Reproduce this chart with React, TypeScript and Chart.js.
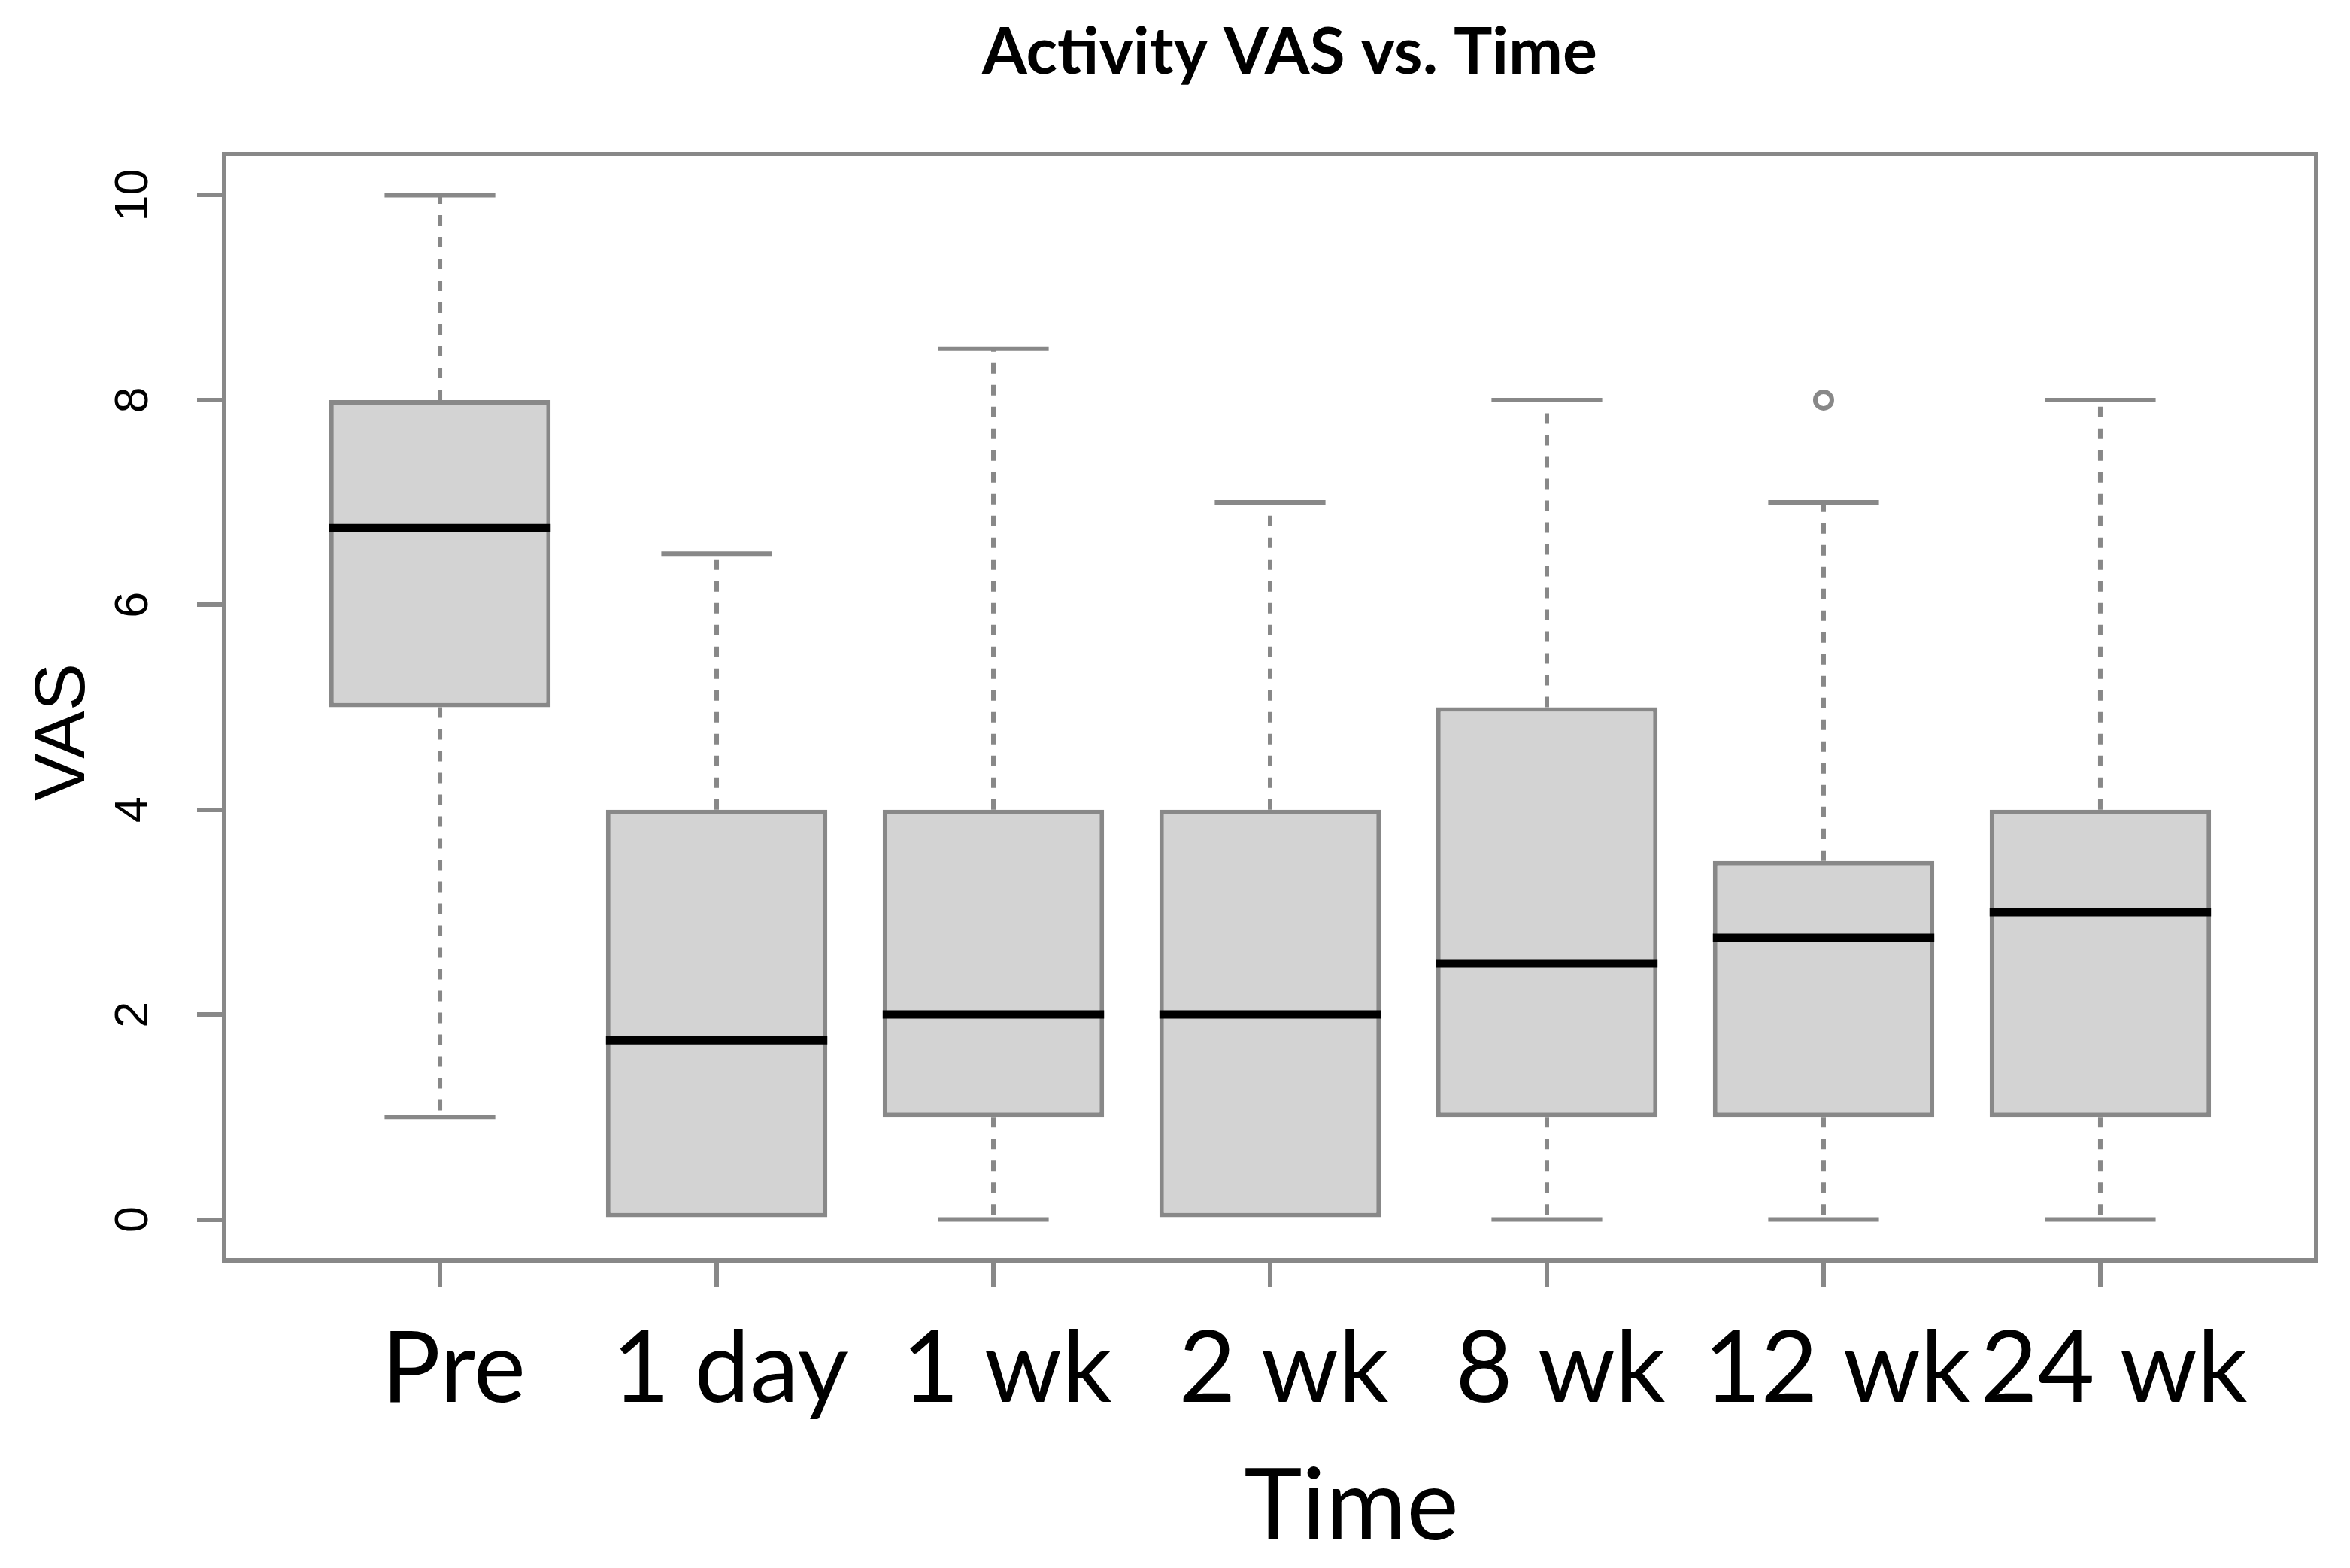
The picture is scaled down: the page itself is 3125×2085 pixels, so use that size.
import React, { useEffect, useRef } from 'react';
import { Chart, registerables } from 'chart.js';

Chart.register(...registerables);

// ---- data ----
const CATEGORIES = ['Pre', '1 day', '1 wk', '2 wk', '8 wk', '12 wk', '24 wk'];
const WHISKER_LOW = [1, 0, 0, 0, 0, 0, 0];
const Q1 = [5, 0, 1, 0, 1, 1, 1];
const MEDIAN = [6.75, 1.75, 2, 2, 2.5, 2.75, 3];
const Q3 = [8, 4, 4, 4, 5, 3.5, 4];
const WHISKER_HIGH = [10, 6.5, 8.5, 7, 8, 7, 8];
const OUTLIER_CATEGORIES = ['12 wk'];
const OUTLIER_VALUES = [8];
const Y_TICKS = [0, 2, 4, 6, 8, 10];
const TITLE = 'Activity VAS vs. Time';
const X_TITLE = 'Time';
const Y_TITLE = 'VAS';

// ---- styles ----
const GRAY = '#888888';
const BOX_FILL = '#d3d3d3';
const W = 3125;
const H = 2085;

const boxExtras = {
  id: 'boxExtras',
  beforeDatasetsDraw(chart: any) {
    const { ctx, scales } = chart;
    const x = scales.x;
    const y = scales.y;
    ctx.save();
    ctx.strokeStyle = GRAY;
    ctx.lineWidth = 6;
    ctx.lineCap = 'butt';
    CATEGORIES.forEach((_, i) => {
      const pos = i + 1;
      const cx = x.getPixelForValue(pos);
      const sl = x.getPixelForValue(pos - 0.2);
      const sr = x.getPixelForValue(pos + 0.2);
      ctx.setLineDash([14, 15]);
      ctx.beginPath();
      ctx.moveTo(cx, y.getPixelForValue(Q3[i]));
      ctx.lineTo(cx, y.getPixelForValue(WHISKER_HIGH[i]));
      ctx.moveTo(cx, y.getPixelForValue(Q1[i]));
      ctx.lineTo(cx, y.getPixelForValue(WHISKER_LOW[i]));
      ctx.stroke();
      ctx.setLineDash([]);
      ctx.beginPath();
      const yh = y.getPixelForValue(WHISKER_HIGH[i]);
      const yl = y.getPixelForValue(WHISKER_LOW[i]);
      if (WHISKER_HIGH[i] !== Q3[i]) {
        ctx.moveTo(sl, yh);
        ctx.lineTo(sr, yh);
      }
      if (WHISKER_LOW[i] !== Q1[i]) {
        ctx.moveTo(sl, yl);
        ctx.lineTo(sr, yl);
      }
      ctx.stroke();
    });
    ctx.restore();
  },
  afterDatasetsDraw(chart: any) {
    const { ctx, scales } = chart;
    const x = scales.x;
    const y = scales.y;
    ctx.save();
    ctx.strokeStyle = '#000000';
    ctx.lineWidth = 11;
    ctx.lineCap = 'butt';
    CATEGORIES.forEach((_, i) => {
      const pos = i + 1;
      const ym = y.getPixelForValue(MEDIAN[i]);
      ctx.beginPath();
      ctx.moveTo(x.getPixelForValue(pos - 0.4), ym);
      ctx.lineTo(x.getPixelForValue(pos + 0.4), ym);
      ctx.stroke();
    });
    ctx.restore();
  },
  afterDraw(chart: any) {
    const { ctx, chartArea, scales } = chart;
    const y = scales.y;
    ctx.save();
    // frame
    ctx.strokeStyle = GRAY;
    ctx.lineWidth = 6;
    ctx.strokeRect(chartArea.left, chartArea.top, chartArea.right - chartArea.left, chartArea.bottom - chartArea.top);

    // rotated y tick labels
    ctx.fillStyle = '#000000';
    ctx.font = '63px "Liberation Sans", Arial, sans-serif';
    ctx.textAlign = 'center';
    ctx.textBaseline = 'alphabetic';
    Y_TICKS.forEach((v) => {
      const py = y.getPixelForValue(v);
      ctx.save();
      ctx.translate(chartArea.left - 102, py);
      ctx.rotate(-Math.PI / 2);
      ctx.fillText(String(v), 0, 0);
      ctx.restore();
    });

    // y axis title
    ctx.font = '95px "Liberation Sans", Arial, sans-serif';
    ctx.save();
    ctx.translate(112, (chartArea.top + chartArea.bottom) / 2 + 33);
    ctx.rotate(-Math.PI / 2);
    ctx.fillText(Y_TITLE, 0, 0);
    ctx.restore();

    // x axis title
    ctx.font = '131px Lato, "Open Sans", sans-serif';
    ctx.fillText(X_TITLE, (chartArea.left + chartArea.right) / 2 + 108, 2047);

    // main title
    ctx.font = 'bold 86px Lato, "Open Sans", sans-serif';
    ctx.fillText(TITLE, (chartArea.left + chartArea.right) / 2 + 26, 98);
    ctx.restore();
  },
};

export default function App() {
  const ref = useRef<HTMLCanvasElement | null>(null);

  useEffect(() => {
    document.body.style.margin = '0';
    document.body.style.overflow = 'hidden';
    const canvas = ref.current;
    if (!canvas) return;
    const chart = new Chart(canvas, {
      type: 'bar',
      data: {
        datasets: [
          {
            type: 'bar',
            data: CATEGORIES.map((_, i) => ({ x: i + 1, y: [Q1[i], Q3[i]] })) as any,
            backgroundColor: BOX_FILL,
            borderColor: GRAY,
            borderWidth: 6,
            borderSkipped: false,
            barPercentage: 0.8,
            categoryPercentage: 1.0,
          } as any,
          {
            type: 'scatter',
            data: OUTLIER_CATEGORIES.map((c, i) => ({ x: CATEGORIES.indexOf(c) + 1, y: OUTLIER_VALUES[i] })),
            pointStyle: 'circle',
            pointRadius: 11,
            pointBorderWidth: 6,
            pointBorderColor: GRAY,
            pointBackgroundColor: 'rgba(0,0,0,0)',
          } as any,
        ],
      },
      options: {
        animation: false,
        responsive: false,
        maintainAspectRatio: false,
        layout: { padding: { top: 205, right: 45, left: 0, bottom: 0 } },
        plugins: {
          legend: { display: false },
          title: { display: false },
          tooltip: { enabled: false },
        },
        scales: {
          x: {
            type: 'linear',
            offset: false,
            min: 0.22,
            max: 7.78,
            afterBuildTicks: (s: any) => {
              s.ticks = CATEGORIES.map((_, i) => ({ value: i + 1 }));
            },
            afterFit: (s: any) => {
              s.height = 409;
            },
            ticks: {
              autoSkip: false,
              maxRotation: 0,
              minRotation: 0,
              padding: 31,
              labelOffset: 18,
              color: '#000000',
              font: { family: 'Lato', size: 131 },
              callback: (v: any) => CATEGORIES[Math.round(Number(v)) - 1] ?? '',
            },
            grid: {
              display: true,
              offset: false,
              drawOnChartArea: false,
              drawTicks: true,
              tickLength: 36,
              tickWidth: 6,
              tickColor: GRAY,
              color: GRAY,
              lineWidth: 6,
            },
            border: { display: false },
          },
          y: {
            type: 'linear',
            min: -0.4,
            max: 10.4,
            afterBuildTicks: (s: any) => {
              s.ticks = Y_TICKS.map((v) => ({ value: v }));
            },
            afterFit: (s: any) => {
              s.width = 298;
            },
            ticks: { display: false },
            grid: {
              display: true,
              offset: false,
              drawOnChartArea: false,
              drawTicks: true,
              tickLength: 36,
              tickWidth: 6,
              tickColor: GRAY,
              color: GRAY,
              lineWidth: 6,
            },
            border: { display: false },
          },
        },
      } as any,
      plugins: [boxExtras],
    });
    return () => chart.destroy();
  }, []);

  return (
    <div style={{ position: 'absolute', left: 0, top: 0, width: W, height: H, background: '#ffffff' }}>
      <canvas ref={ref} width={W} height={H} style={{ display: 'block', width: W, height: H }} />
    </div>
  );
}
